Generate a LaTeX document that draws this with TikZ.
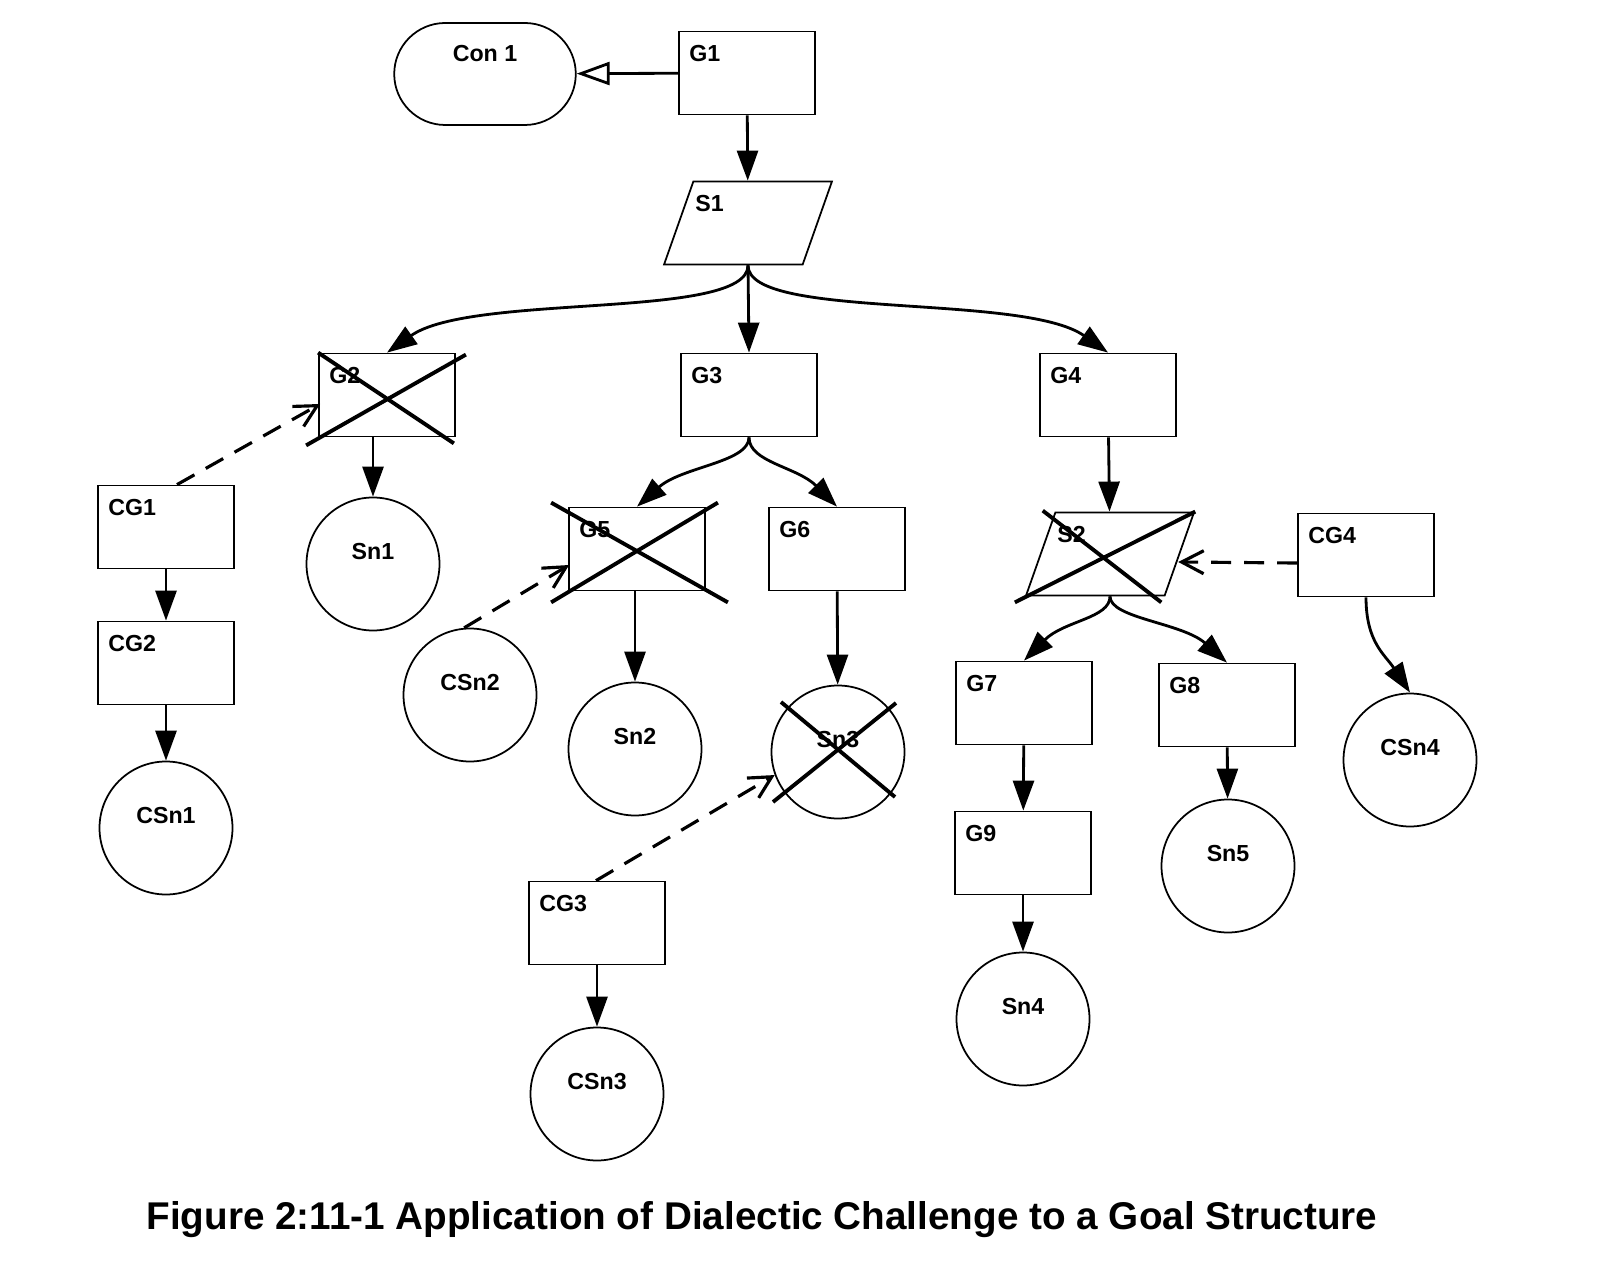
\documentclass[tikz,border=0pt]{standalone}
\usepackage{fontspec}
\setmainfont{Liberation Sans}
\usepackage{tikz}
\usetikzlibrary{shapes.geometric, shapes.misc, arrows.meta, calc}

\begin{document}
\begin{tikzpicture}[
    x=0.1mm, y=-0.1mm,
    tag/.style={font=\bfseries\fontsize{6.6}{8}\selectfont, inner sep=0pt},
    goal/.style={rectangle, draw, line width=0.5pt, minimum width=13.6mm, minimum height=8.3mm, label={[tag, anchor=west, xshift=1.05mm, yshift=-2.3mm]north west:#1}},
    strat/.style={trapezium, trapezium left angle=75, trapezium right angle=105, trapezium stretches=true, draw, line width=0.5pt, minimum width=16.8mm, minimum height=8.3mm, label={[tag, anchor=west, xshift=0.2mm, yshift=-2.3mm]top left corner:#1}},
    sol/.style={circle, draw, line width=0.5pt, minimum size=13.3mm, label={[tag, anchor=center, yshift=1.2mm]center:#1}},
    context/.style={rounded rectangle, draw, line width=0.5pt, minimum width=20.5mm, minimum height=10.2mm, label={[tag, anchor=center, yshift=2.05mm]center:#1}},
    arrow/.style={-{Triangle[length=3mm, width=2.1mm]}, line width=0.8pt},
    ctx/.style={-{Triangle[open, length=3.3mm, width=2.3mm]}, line width=0.8pt},
    challenge/.style={-{Straight Barb[length=2.2mm, width=2.3mm]}, line width=0.9pt, dash pattern=on 2mm off 1.3mm},
    strike/.style={line width=1.1pt}
]
\useasboundingbox (0,0) rectangle (1610,1261);

% top of the structure
\node[goal=G1] (G1) at (747,73) {};
\node[context=Con 1] (Con1) at (485,74) {};
\node[strat=S1] (S1) at (748,223) {};

\node[goal=G2] (G2) at (387,395) {};
\node[goal=G3] (G3) at (749,395) {};
\node[goal=G4] (G4) at (1108,395) {};

% left branch
\node[goal=CG1] (CG1) at (166,527) {};
\node[goal=CG2] (CG2) at (166,663) {};
\node[sol=CSn1] (CSn1) at (166,828) {};
\node[sol=Sn1] (Sn1) at (373,564) {};

% middle branch
\node[goal=G5] (G5) at (637,549) {};
\node[goal=G6] (G6) at (837,549) {};
\node[sol=CSn2] (CSn2) at (470,695) {};
\node[sol=Sn2] (Sn2) at (635,749) {};
\node[sol=Sn3] (Sn3) at (838,752) {};
\node[goal=CG3] (CG3) at (597,923) {};
\node[sol=CSn3] (CSn3) at (597,1094) {};

% right branch
\node[strat=S2] (S2) at (1110,554) {};
\node[goal=CG4] (CG4) at (1366,555) {};
\node[sol=CSn4] (CSn4) at (1410,760) {};
\node[goal=G7] (G7) at (1024,703) {};
\node[goal=G8] (G8) at (1227,705) {};
\node[goal=G9] (G9) at (1023,853) {};
\node[sol=Sn5] (Sn5) at (1228,866) {};
\node[sol=Sn4] (Sn4) at (1023,1019) {};

\node[font=\bfseries\fontsize{11}{13}\selectfont] (caption) at (762,1220) {Figure 2:11-1 Application of Dialectic Challenge to a Goal Structure};

% connectors
\draw[ctx] (G1) -- (Con1);
\draw[arrow] (G1) -- (S1);
\draw[arrow] (S1.south) .. controls +(0,55) and +(85,-60) .. (G2.north);
\draw[arrow] (S1.south) -- (G3.north);
\draw[arrow] (S1.south) .. controls +(0,55) and +(-85,-60) .. (G4.north);
\draw[arrow] (G2.south -| Sn1) -- (Sn1);
\draw[arrow] (G3.south) .. controls +(0,25) and +(45,-40) .. (G5.north);
\draw[arrow] (G3.south) .. controls +(0,25) and +(-40,-40) .. (G6.north);
\draw[arrow] (G5.south -| Sn2) -- (Sn2);
\draw[arrow] (G6) -- (Sn3);
\draw[arrow] (CG1) -- (CG2);
\draw[arrow] (CG2) -- (CSn1);
\draw[arrow] (CG3) -- (CSn3);
\draw[arrow] (G4) -- (S2);
\draw[arrow] (S2.south) .. controls +(0,22) and +(40,-40) .. (G7.north);
\draw[arrow] (S2.south) .. controls +(0,22) and +(-45,-40) .. (G8.north);
\draw[arrow] (G7) -- (G9);
\draw[arrow] (G9) -- (Sn4);
\draw[arrow] (G8) -- (Sn5);
\draw[arrow] (CG4.south) .. controls +(0,45) and +(-25,-38) .. (CSn4.north);

% dialectic challenges
\draw[challenge] ($(CG1.north)+(11,0)$) -- ($(G2.west)+(2,9)$);
\draw[challenge] (CSn2.95) -- ($(G5.west)+(1,16)$);
\draw[challenge] ($(CG3.north)+(-1,0)$) -- (Sn3.200);
\draw[challenge] ($(CG4.west)+(0,8)$) -- ($(S2.east)+(-2,8)$);

% struck-out elements
\draw[strike] (G2.north west) -- ($(G2.south east)+(-2,6)$);
\draw[strike] ($(G2.south west)+(-12,8)$) -- ($(G2.north east)+(10,2)$);
\draw[strike] ($(G5.north west)+(-17,-4)$) -- ($(G5.south east)+(22,11)$);
\draw[strike] ($(G5.south west)+(-17,11)$) -- ($(G5.north east)+(12,-4)$);
\draw[strike] ($(S2.top left corner)+(-12,-1)$) -- ($(S2.bottom right corner)+(-4,6)$);
\draw[strike] ($(S2.bottom left corner)+(-10,6)$) -- (S2.top right corner);
\draw[strike] ($(Sn3)+(-57,-50)$) -- ($(Sn3)+(57,45)$);
\draw[strike] ($(Sn3)+(-65,50)$) -- ($(Sn3)+(58,-49)$);
\end{tikzpicture}
\end{document}
